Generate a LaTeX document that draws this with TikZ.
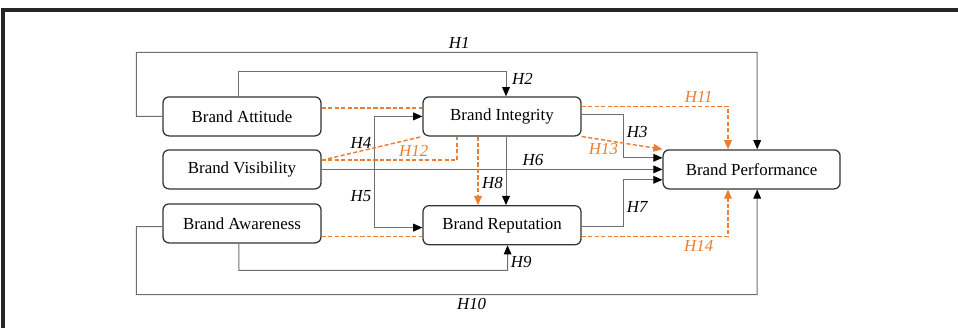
\documentclass[tikz,border=0pt]{standalone}
\usepackage{fontspec}
\setmainfont{Liberation Serif}
\usepackage{tikz}
\usetikzlibrary{arrows.meta, calc, positioning}
\definecolor{lineGray}{HTML}{6E6E6E}
\definecolor{hypOrange}{HTML}{ED7D31}
\tikzstyle{brandNode} = [
                rectangle,
                rounded corners = 0.15cm,
                minimum width = 3.95cm,
                minimum height = 0.975cm,
                text centered,
                draw = black!80,
                line width = 0.9pt,
                font = \fontsize{12}{14}\selectfont
            ]
\tikzstyle{arrow} = [draw=lineGray, line width=0.7pt, -{Triangle[length=6.5pt,width=5.5pt,color=black]}]
\tikzstyle{dashLine} = [color=hypOrange, line width=1pt, dash pattern=on 3pt off 1.6pt]
\tikzstyle{dashArrow} = [dashLine, -{Triangle[length=6.5pt,width=5.5pt]}]
\tikzstyle{hypLabel} = [inner sep=2pt, font=\fontsize{12}{14}\selectfont\itshape]
\tikzstyle{hypLabelOrange} = [hypLabel, text=hypOrange]
\tikzstyle{frame} = [draw=black!85, line width=2.2pt]

\begin{document}
\begin{tikzpicture}[node distance = 1.325 cm]
    \useasboundingbox (0,0) rectangle (23.95,-8.2);
    \draw [frame] (0.075,-8.6) |- (24.4,-0.25);

    \node (att) [brandNode] at (6.05,-2.91) {Brand Attitude};
    \node (vis) [brandNode, below of=att] {Brand Visibility};
    \node (awa) [brandNode, below of=vis, node distance=1.35cm] {Brand Awareness};
    \node (int) [brandNode, right of=att, node distance=6.5cm] {Brand Integrity};
    \node (rep) [brandNode, below of=int, node distance=2.72cm] {Brand Reputation};
    \node (perf) [brandNode, right of=vis, node distance=12.74cm, minimum width=4.425cm] {Brand Performance};

    % direct paths
    \draw [arrow] (att.west) -- ++(-0.65,0) |- node (h1) [hypLabel, above, pos=0.76] {H1} ($(perf.north)+(0.14,2.425)$) -- ([xshift=0.14cm]perf.north);
    \draw [arrow] ([xshift=-0.1cm]att.north) |- ($(int.north)+(0.1,0.63)$) -- node (h2) [hypLabel, right, pos=0.3, xshift=2pt] {H2} ([xshift=0.1cm]int.north);
    \draw [arrow] ([yshift=0.05cm]int.east) -- ++(1.05,0) |- node (h3) [hypLabel, right, pos=0.2] {H3} ([yshift=0.29cm]perf.west);
    \draw [arrow] ([xshift=1.325cm]vis.east) |- node (h4) [hypLabel, left, pos=0.25] {H4} (int.west);
    \draw [arrow] ([xshift=1.325cm]vis.east) |- node (h5) [hypLabel, left, pos=0.23] {H5} ([yshift=-0.06cm]rep.west);
    \draw [arrow] (vis.east) -- node (h6) [hypLabel, above, pos=0.62] {H6} (perf.west);
    \draw [arrow] ([yshift=-0.04cm]rep.east) -- ++(1.05,0) |- node (h7) [hypLabel, right, pos=0.21] {H7} ([yshift=-0.26cm]perf.west);
    \draw [arrow] ([xshift=0.1cm]int.south) -- node (h8) [hypLabel, left, pos=0.68] {H8} ([xshift=0.1cm]rep.north);
    \draw [arrow] ([xshift=-0.08cm]awa.south) |- ($(rep.south)+(0.14,-0.625)$) -- node (h9) [hypLabel, right, pos=0.32] {H9} ([xshift=0.14cm]rep.south);
    \draw [arrow] ([yshift=-0.08cm]awa.west) -- ++(-0.65,0) |- node (h10) [hypLabel, below, pos=0.77] {H10} ($(perf.south)+(0.14,-2.625)$) -- ([xshift=0.14cm]perf.south);

    % mediated paths
    \draw [dashLine] ([yshift=0.21cm]att.east) -- ([yshift=0.21cm]int.west);
    \draw [dashArrow] ([yshift=0.25cm]int.east) -| node (h11) [hypLabelOrange, above, pos=0.4] {H11} ([xshift=-0.59cm]perf.north);
    \draw [dashLine] ([yshift=0.23cm]vis.east) -- (int.south west);
    \draw [dashLine] ([yshift=0.23cm]vis.east) -| node (h12) [hypLabelOrange, above, pos=0.34] {H12} ([xshift=-1.125cm]int.south);
    \draw [dashArrow] ([xshift=-0.6cm]int.south) -- ([xshift=-0.6cm]rep.north);
    \draw [dashArrow] (int.south east) -- node (h13) [hypLabelOrange, below, pos=0.27] {H13} (perf.north west);
    \draw [dashLine] ([yshift=-0.325cm]awa.east) -- ([yshift=-0.28cm]rep.west);
    \draw [dashArrow] ([yshift=-0.28cm]rep.east) -| node (h14) [hypLabelOrange, below, pos=0.4] {H14} ([xshift=-0.59cm]perf.south);
\end{tikzpicture}
\end{document}
